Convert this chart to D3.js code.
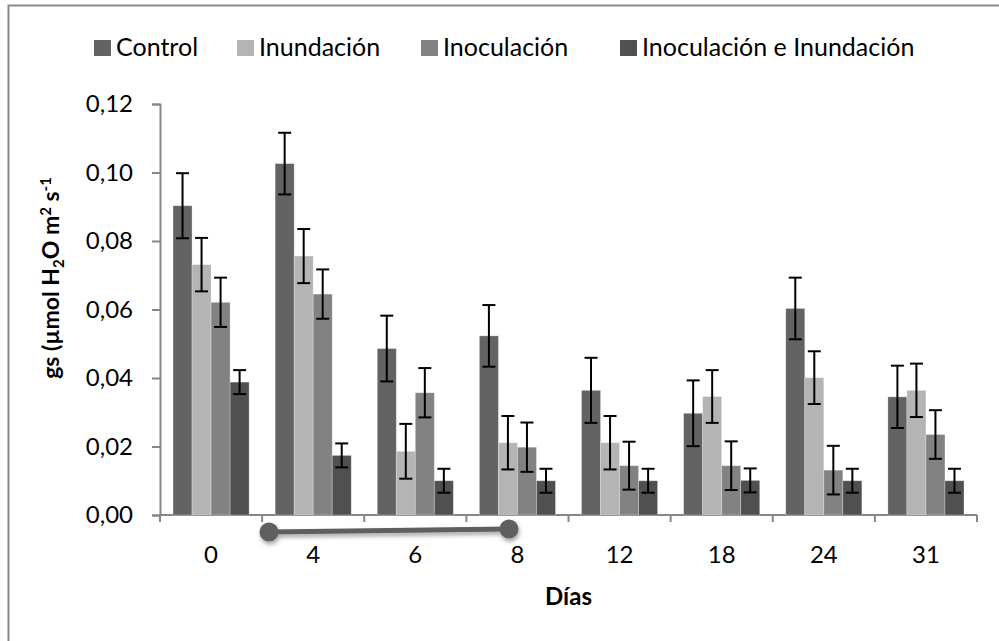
<!DOCTYPE html>
<html>
<head>
<meta charset="utf-8">
<script src="https://d3js.org/d3.v7.min.js"></script>
<style>
    body { margin: 0; background: #fff; }
    svg { display: block; font-family: Lato, "Open Sans", sans-serif; }
</style>
</head>
<body>
<div id="container"></div>
<script>
//chart data
var dias = ["0", "4", "6", "8", "12", "18", "24", "31"];
var seriesNames = ["Control", "Inundación", "Inoculación", "Inoculación e Inundación"];
var control = [0.0903, 0.1026, 0.0486, 0.0523, 0.0364, 0.0297, 0.0603, 0.0345];
var controlErr = [0.0095, 0.0090, 0.0096, 0.0090, 0.0095, 0.0096, 0.0090, 0.0091];
var inundacion = [0.0731, 0.0756, 0.0186, 0.0211, 0.0211, 0.0346, 0.0401, 0.0364];
var inundacionErr = [0.0078, 0.0079, 0.0080, 0.0078, 0.0078, 0.0077, 0.0077, 0.0078];
var inoculacion = [0.0621, 0.0645, 0.0357, 0.0198, 0.0144, 0.0144, 0.0131, 0.0235];
var inoculacionErr = [0.0072, 0.0072, 0.0072, 0.0072, 0.0070, 0.0071, 0.0071, 0.0071];
var inocInund = [0.0388, 0.0174, 0.0100, 0.0100, 0.0100, 0.0101, 0.0100, 0.0100];
var inocInundErr = [0.0035, 0.0035, 0.0035, 0.0035, 0.0035, 0.0035, 0.0035, 0.0035];
var yTicks = [0, 0.02, 0.04, 0.06, 0.08, 0.10, 0.12];

(function(){
    var colors = ["#636363", "#b4b4b4", "#828282", "#505050"];
    var values = [control, inundacion, inoculacion, inocInund];
    var errors = [controlErr, inundacionErr, inoculacionErr, inocInundErr];

    var W = 999, H = 641;
    var margin = {top: 104, right: 22, bottom: 126, left: 160};

    var svg = d3.select("#container")
        .append("svg")
        .attr("width", W)
        .attr("height", H);

    //drop shadow for the connector annotation
    var filter = svg.append("defs").append("filter")
        .attr("id", "shadow")
        .attr("x", "-20%").attr("y", "-100%")
        .attr("width", "140%").attr("height", "300%");
    filter.append("feDropShadow")
        .attr("dx", 1).attr("dy", 3)
        .attr("stdDeviation", 2)
        .attr("flood-color", "#000")
        .attr("flood-opacity", 0.35);

    //chart border (runs off the right and bottom edge)
    svg.append("path")
        .attr("d", "M8.5," + (H + 5) + "V5.5H" + (W + 5))
        .attr("fill", "none")
        .attr("stroke", "#8a8a8a")
        .attr("stroke-width", 2);

    //scales
    var x = d3.scaleBand()
        .domain(dias)
        .range([margin.left, W - margin.right])
        .paddingInner(0.255)
        .paddingOuter(0.1275);

    var xs = d3.scaleBand()
        .domain(d3.range(seriesNames.length))
        .range([0, x.bandwidth()]);

    var y = d3.scaleLinear()
        .domain([0, 0.12])
        .range([H - margin.bottom, margin.top]);

    var fmt = function(d){ return d3.format(".2f")(d).replace(".", ","); };

    //y axis
    var yAxis = svg.append("g")
        .attr("transform", "translate(" + margin.left + ",0)")
        .call(d3.axisLeft(y).tickValues(yTicks).tickFormat(fmt).tickSize(8).tickPadding(19));
    yAxis.select(".domain").attr("stroke", "#868686").attr("stroke-width", 2);
    yAxis.selectAll(".tick line").attr("stroke", "#868686").attr("stroke-width", 2);
    yAxis.selectAll(".tick text")
        .attr("font-size", 24)
        .attr("fill", "#000")
        .attr("font-family", "Lato");

    //x axis: category labels, ticks drawn on the boundaries
    var xAxis = svg.append("g")
        .attr("transform", "translate(0," + y(0) + ")");
    xAxis.append("line")
        .attr("x1", margin.left).attr("x2", W - margin.right)
        .attr("stroke", "#868686").attr("stroke-width", 2);
    xAxis.selectAll(".bound")
        .data(d3.range(dias.length + 1))
        .enter()
        .append("line")
        .attr("class", "bound")
        .attr("x1", function(i){ return margin.left + i * x.step(); })
        .attr("x2", function(i){ return margin.left + i * x.step(); })
        .attr("y1", 0).attr("y2", 7)
        .attr("stroke", "#868686").attr("stroke-width", 2);
    xAxis.selectAll(".lab")
        .data(dias)
        .enter()
        .append("text")
        .attr("class", "lab")
        .attr("x", function(d){ return x(d) + x.bandwidth() / 2; })
        .attr("y", 48)
        .attr("text-anchor", "middle")
        .attr("font-size", 24)
        .text(function(d){ return d; });

    //bars
    var groups = svg.selectAll(".grp")
        .data(dias)
        .enter()
        .append("g")
        .attr("class", "grp")
        .attr("transform", function(d){ return "translate(" + x(d) + ",0)"; });

    seriesNames.forEach(function(name, s){
        groups.append("rect")
            .attr("x", xs(s))
            .attr("width", xs.bandwidth())
            .attr("y", function(d, i){ return y(values[s][i]); })
            .attr("height", function(d, i){ return y(0) - y(values[s][i]); })
            .attr("fill", colors[s])
            .attr("stroke", "rgba(255,255,255,0.35)")
            .attr("stroke-width", 0.8);
    });

    //error bars
    seriesNames.forEach(function(name, s){
        var cx = xs(s) + xs.bandwidth() / 2;
        var eb = groups.append("g")
            .attr("stroke", "#000")
            .attr("stroke-width", 2);
        eb.append("line")
            .attr("x1", cx).attr("x2", cx)
            .attr("y1", function(d, i){ return y(values[s][i] + errors[s][i]); })
            .attr("y2", function(d, i){ return y(values[s][i] - errors[s][i]); });
        [1, -1].forEach(function(sign){
            eb.append("line")
                .attr("x1", cx - 6.5).attr("x2", cx + 6.5)
                .attr("y1", function(d, i){ return y(values[s][i] + sign * errors[s][i]); })
                .attr("y2", function(d, i){ return y(values[s][i] + sign * errors[s][i]); });
        });
    });

    //connector annotation under the axis
    var conn = svg.append("g").attr("filter", "url(#shadow)");
    conn.append("line")
        .attr("x1", 269).attr("y1", 532)
        .attr("x2", 509).attr("y2", 529)
        .attr("stroke", "#5f5f5f")
        .attr("stroke-width", 5);
    conn.selectAll("circle")
        .data([[269, 532], [509, 529]])
        .enter()
        .append("circle")
        .attr("cx", function(d){ return d[0]; })
        .attr("cy", function(d){ return d[1]; })
        .attr("r", 9.5)
        .attr("fill", "#5f5f5f");

    //axis titles
    svg.append("text")
        .attr("x", (margin.left + W - margin.right) / 2)
        .attr("y", 605)
        .attr("text-anchor", "middle")
        .attr("font-size", 24)
        .attr("font-weight", "bold")
        .text("Días");

    var yt = svg.append("text")
        .attr("transform", "translate(59,278) rotate(-90)")
        .attr("text-anchor", "middle")
        .attr("font-size", 23)
        .attr("font-weight", "bold");
    yt.append("tspan").text("gs (µmol H");
    yt.append("tspan").attr("font-size", 15).attr("dy", 5).text("2");
    yt.append("tspan").attr("dy", -5).text("O m");
    yt.append("tspan").attr("font-size", 15).attr("dy", -8).text("2");
    yt.append("tspan").attr("dy", 8).text(" s");
    yt.append("tspan").attr("font-size", 15).attr("dy", -8).text("-1");

    //legend
    var legendX = [94, 237, 421, 620];
    var legend = svg.selectAll(".leg")
        .data(seriesNames)
        .enter()
        .append("g")
        .attr("class", "leg")
        .attr("transform", function(d, i){ return "translate(" + legendX[i] + ",40)"; });
    legend.append("rect")
        .attr("width", 17).attr("height", 16)
        .attr("fill", function(d, i){ return colors[i]; });
    legend.append("text")
        .attr("x", 22).attr("y", 16)
        .attr("font-size", 25)
        .text(function(d){ return d; });
})();
</script>
</body>
</html>
